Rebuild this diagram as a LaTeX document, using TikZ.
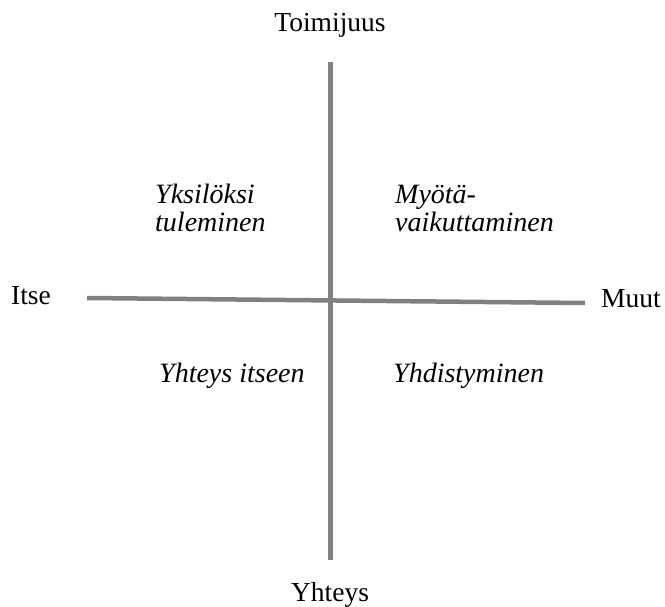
\documentclass[tikz,border=0pt]{standalone}
\usepackage{fontspec}
\setmainfont{Liberation Serif}
\begin{document}
\begin{tikzpicture}[x=1pt,y=-1pt,
  axis/.style={line width=4.5pt, color=axisgray},
  lbl/.style={font=\fontsize{27.5}{30}\selectfont, inner sep=0pt, anchor=base},
  quad/.style={font=\fontsize{28}{30}\selectfont\itshape, inner sep=0pt, anchor=base west, align=left}]
\definecolor{axisgray}{RGB}{128,128,128}
\useasboundingbox (0,0) rectangle (665,607);
\coordinate (vtop) at (330.7,62);
\coordinate (vbot) at (330.7,560);
\coordinate (hl) at (87,298);
\coordinate (hr) at (585,303);
\draw[axis] (vtop) -- (vbot);
\draw[axis] (hl) -- (hr);
\node[lbl] (top) at (330,32) {Toimijuus};
\node[lbl] (bot) at (330,601) {Yhteys};
\node[lbl] (itse) at (31,305) {Itse};
\node[lbl] (muut) at (631,308) {Muut};
\node[quad] (q1a) at (155,204) {Yksilöksi};
\node[quad] (q1b) at (155,232) {tuleminen};
\node[quad] (q2a) at (395,204) {Myötä-};
\node[quad] (q2b) at (395,232) {vaikuttaminen};
\node[quad] (q3) at (159,382) {Yhteys itseen};
\node[quad] (q4) at (393,382) {Yhdistyminen};
\end{tikzpicture}
\end{document}
